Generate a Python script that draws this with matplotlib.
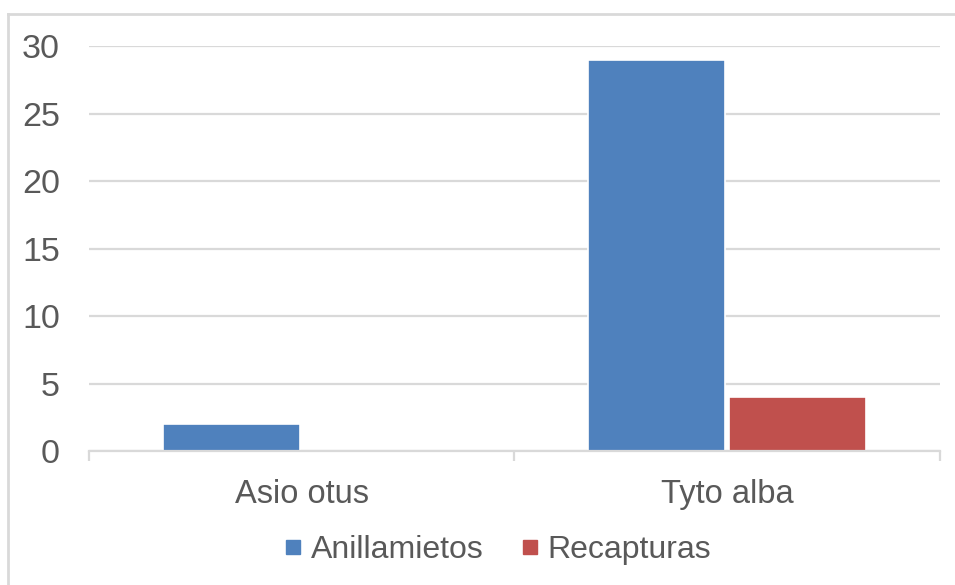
''' ringing vs recapture counts per owl species, Excel-style clustered bars '''

import numpy as np
import matplotlib.pyplot as plt
from matplotlib.lines import Line2D

species = ['Asio otus', 'Tyto alba']
anillamientos = [2, 29]
recapturas = [0, 4]
series_names = ['Anillamietos', 'Recapturas']
yticks = [0, 5, 10, 15, 20, 25, 30]

plt.rcParams['font.family'] = ['Liberation Sans', 'DejaVu Sans']
text_col = '#595959'
grid_col = '#d9d9d9'
blue = '#4f81bd'
red = '#c0504d'

fig = plt.figure(figsize=(9.55, 5.85), dpi=100)
ax = fig.add_axes([0.0932, 0.229, 0.8908, 0.692])

x = np.arange(len(species))
w = 0.322
off = 0.166
ax.bar(x - off, anillamientos, w, color=blue, edgecolor='white', linewidth=1.2,
       label=series_names[0], zorder=3)
ax.bar(x + off, recapturas, w, color=red, edgecolor='white', linewidth=1.2,
       label=series_names[1], zorder=3)

ax.set_xlim(-0.5, 1.5)
ax.set_ylim(0, 30)
ax.set_yticks(yticks)
ax.set_xticks(x)
ax.set_xticklabels(species)
ax.set_xticks([-0.5, 0.5, 1.5], minor=True)

# gridlines and axis styling
ax.yaxis.grid(True, color=grid_col, linewidth=1.6, zorder=0)
for s in ['top', 'right', 'left']:
    ax.spines[s].set_visible(False)
ax.spines['bottom'].set_color(grid_col)
ax.spines['bottom'].set_linewidth(1.6)
ax.spines['bottom'].set_zorder(4)
ax.tick_params(axis='y', length=0, pad=21, labelsize=24.5, labelcolor=text_col)
ax.tick_params(axis='x', which='major', length=0, pad=20, labelsize=23.5, labelcolor=text_col)
ax.tick_params(axis='x', which='minor', length=7, width=1.6, color=grid_col)

# legend below the plot
handles = [Line2D([], [], marker='s', linestyle='', color=blue, markersize=10),
           Line2D([], [], marker='s', linestyle='', color=red, markersize=10)]
fig.legend(handles, series_names, loc='center', bbox_to_anchor=(0.518, 0.06),
           ncol=2, frameon=False, fontsize=23, labelcolor=text_col,
           handletextpad=0.1, columnspacing=1.0, handlelength=0.9)

# chart area border (only left and top visible in the crop)
fig.add_artist(Line2D([8 / 955, 8 / 955], [0, 1 - 14 / 585], color=grid_col,
                      linewidth=2, transform=fig.transFigure))
fig.add_artist(Line2D([8 / 955, 1], [1 - 14 / 585, 1 - 14 / 585], color=grid_col,
                      linewidth=2, transform=fig.transFigure))

fig.savefig('out.png', dpi=100)
